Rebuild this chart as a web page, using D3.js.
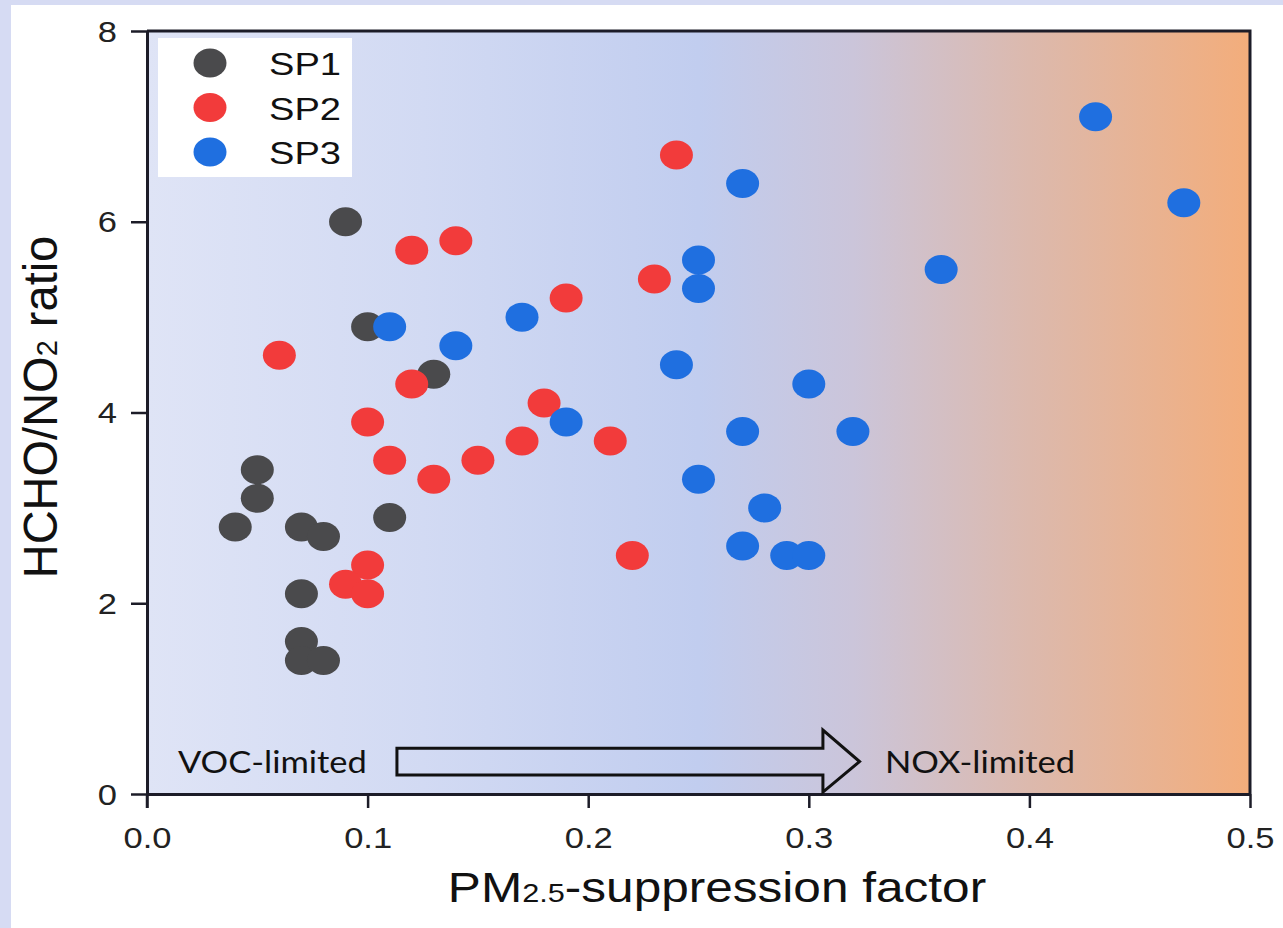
<!DOCTYPE html>
<html><head><meta charset="utf-8">
<script src="https://cdn.jsdelivr.net/npm/d3@7"></script>
<style>body{margin:0;background:#d6dbf3;overflow:hidden} svg{display:block}</style>
</head><body><svg id="c" width="1283" height="928"></svg>
<script>
// ---- data ----
const seriesNames = ["SP1", "SP2", "SP3"];
const seriesColors = ["#4a4a4c", "#f23b3b", "#1f6fe0"];
const sp1X = [0.09, 0.10, 0.13, 0.05, 0.05, 0.04, 0.07, 0.08, 0.11, 0.07, 0.07, 0.07, 0.08];
const sp1Y = [6.0, 4.9, 4.4, 3.4, 3.1, 2.8, 2.8, 2.7, 2.9, 2.1, 1.6, 1.4, 1.4];
const sp2X = [0.06, 0.12, 0.14, 0.24, 0.19, 0.23, 0.12, 0.10, 0.18, 0.11, 0.13, 0.15, 0.17, 0.21, 0.22, 0.10, 0.09, 0.10];
const sp2Y = [4.6, 5.7, 5.8, 6.7, 5.2, 5.4, 4.3, 3.9, 4.1, 3.5, 3.3, 3.5, 3.7, 3.7, 2.5, 2.4, 2.2, 2.1];
const sp3X = [0.11, 0.14, 0.17, 0.19, 0.24, 0.25, 0.25, 0.27, 0.43, 0.47, 0.36, 0.30, 0.27, 0.32, 0.25, 0.28, 0.27, 0.29, 0.30];
const sp3Y = [4.9, 4.7, 5.0, 3.9, 4.5, 5.6, 5.3, 6.4, 7.1, 6.2, 5.5, 4.3, 3.8, 3.8, 3.3, 3.0, 2.6, 2.5, 2.5];
const xTicks = [0.0, 0.1, 0.2, 0.3, 0.4, 0.5];
const yTicks = [0, 2, 4, 6, 8];
const xDomain = [0, 0.5];
const yDomain = [0, 8];
// annotation (data units)
const arrowShaft = {x0: 0.1133, x1: 0.3064, yTop: 0.48, yBot: 0.20};
const arrowHead = {yTop: 0.67, yBot: 0.02, tipX: 0.323};
const zoneLabels = [{text: "VOC-limited", x: 0.014, y: 0.22}, {text: "NOX-limited", x: 0.3345, y: 0.22}];

const series = [
  {name: seriesNames[0], color: seriesColors[0], xs: sp1X, ys: sp1Y},
  {name: seriesNames[1], color: seriesColors[1], xs: sp2X, ys: sp2Y},
  {name: seriesNames[2], color: seriesColors[2], xs: sp3X, ys: sp3Y}
];

const svg = d3.select("#c");
const L = 147, R = 1250, T = 31, B = 794;
const x = d3.scaleLinear().domain(xDomain).range([L, R]);
const y = d3.scaleLinear().domain(yDomain).range([B, T]);
const SX = 1.19; // horizontal stretch of the original image

// page card
svg.append("rect").attr("x", 11).attr("y", 5).attr("width", 1283 - 11).attr("height", 928 - 5).attr("fill", "#ffffff");

// gradient
const defs = svg.append("defs");
const g = defs.append("linearGradient").attr("id", "bg").attr("x1", "0").attr("x2", "1").attr("y1", "0").attr("y2", "0");
[[0, "#dfe4f6"], [0.25, "#d2daf3"], [0.5, "#c1cdef"], [0.64, "#cbc5da"], [0.8, "#dcb9ad"], [1, "#f3ad7b"]]
  .forEach(([o, c]) => g.append("stop").attr("offset", o).attr("stop-color", c));

svg.append("rect").attr("x", L).attr("y", T).attr("width", R - L).attr("height", B - T).attr("fill", "url(#bg)");

// frame top/right
svg.append("path").attr("d", `M${L},${T}H${R}V${B}`).attr("fill", "none").attr("stroke", "#1c1c28").attr("stroke-width", 3);

// axes
const fontTick = "'Liberation Sans', Arial, sans-serif";
const xAxis = svg.append("g").attr("transform", `translate(0,${B})`)
  .call(d3.axisBottom(x).tickValues(xTicks).tickFormat(d3.format(".1f")).tickSize(14).tickSizeOuter(0));
const yAxis = svg.append("g").attr("transform", `translate(${L},0)`)
  .call(d3.axisLeft(y).tickValues(yTicks).tickFormat(d3.format("d")).tickSize(16).tickSizeOuter(0));
[xAxis, yAxis].forEach(a => {
  a.select(".domain").attr("stroke", "#1c1c28").attr("stroke-width", 3);
  a.selectAll(".tick line").attr("stroke", "#1c1c28").attr("stroke-width", 2.5);
  a.selectAll(".tick text").attr("font-family", fontTick).attr("font-size", 29).attr("fill", "#222");
});
xAxis.selectAll(".tick text").attr("y", 0).attr("dy", 0)
  .attr("transform", `translate(0,54) scale(${SX},1)`);
yAxis.selectAll(".tick text").attr("x", 0).attr("dy", 0)
  .attr("transform", `translate(-30,10) scale(${SX},1)`);
// cross at origin
svg.append("line").attr("x1", L).attr("x2", L).attr("y1", B).attr("y2", B + 14).attr("stroke", "#1c1c28").attr("stroke-width", 2.5);

// arrow
const ap = [
  [x(arrowShaft.x0), y(arrowShaft.yTop)],
  [x(arrowShaft.x1), y(arrowShaft.yTop)],
  [x(arrowShaft.x1), y(arrowHead.yTop)],
  [x(arrowHead.tipX), y((arrowShaft.yTop + arrowShaft.yBot) / 2)],
  [x(arrowShaft.x1), y(arrowHead.yBot)],
  [x(arrowShaft.x1), y(arrowShaft.yBot)],
  [x(arrowShaft.x0), y(arrowShaft.yBot)]
];
svg.append("path").attr("d", d3.line()(ap) + "Z").attr("fill", "none").attr("stroke", "#111").attr("stroke-width", 3);

zoneLabels.forEach(z => {
  svg.append("text").attr("transform", `translate(${x(z.x)},${y(z.y)}) scale(1.15,1)`)
    .attr("font-family", "Lato, 'Open Sans', sans-serif").attr("font-size", 30).attr("fill", "#111").text(z.text);
});

// points
const RX = 16.5, RY = 14.5;
series.forEach(s => {
  svg.append("g").selectAll("ellipse").data(s.xs.map((v, i) => [v, s.ys[i]])).join("ellipse")
    .attr("cx", d => x(d[0])).attr("cy", d => y(d[1])).attr("rx", RX).attr("ry", RY).attr("fill", s.color);
});

// legend
const lg = svg.append("g");
lg.append("rect").attr("x", 158).attr("y", 38).attr("width", 194).attr("height", 139).attr("fill", "#ffffff");
series.forEach((s, i) => {
  const cy = 63 + i * 44.5;
  lg.append("ellipse").attr("cx", 210).attr("cy", cy).attr("rx", RX).attr("ry", RY).attr("fill", s.color);
  lg.append("text").attr("transform", `translate(269,${cy + 12}) scale(${SX},1)`)
    .attr("font-family", fontTick).attr("font-size", 32).attr("fill", "#111").text(s.name);
});

// axis titles
const xt = svg.append("text").attr("transform", `translate(717,902) scale(1.18,1)`).attr("text-anchor", "middle")
  .attr("font-family", fontTick).attr("font-size", 42).attr("fill", "#111");
xt.append("tspan").text("PM");
xt.append("tspan").attr("font-size", 26).text("2.5");
xt.append("tspan").text("-suppression factor");

const yt = svg.append("text").attr("transform", `translate(57,407) rotate(-90) scale(1,1.02)`).attr("text-anchor", "middle")
  .attr("font-family", fontTick).attr("font-size", 47).attr("fill", "#111");
yt.append("tspan").text("HCHO/NO");
yt.append("tspan").attr("font-size", 29).text("2");
yt.append("tspan").text(" ratio");
</script></body></html>
